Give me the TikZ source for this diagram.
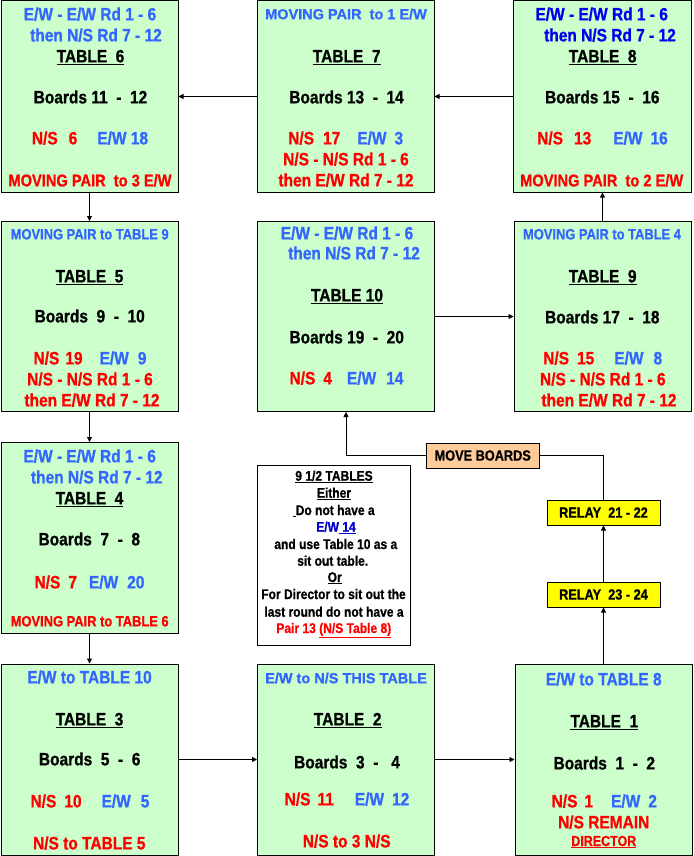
\documentclass[tikz,border=0pt]{standalone}
\usepackage{fontspec}
\setmainfont{Liberation Sans}[FakeStretch=0.86, BoldFeatures={FakeBold=0.8}]
\newfontfamily\wf{Liberation Sans}[BoldFeatures={FakeBold=0.8}]
\usetikzlibrary{arrows.meta}
\definecolor{gfill}{HTML}{CCFFCC}
\definecolor{lb}{HTML}{3366FF}
\definecolor{db}{HTML}{0000EE}
\definecolor{nbl}{HTML}{0000CC}
\definecolor{rd}{HTML}{FF0000}
\definecolor{orng}{HTML}{FFCC99}
\definecolor{yel}{HTML}{FFFF00}
\tikzset{
  tbox/.style={draw=black, line width=1pt, fill=gfill, anchor=north west, inner sep=0pt, minimum width=177pt, minimum height=191pt},
  big/.style={anchor=base, inner sep=0pt, font=\fontsize{18}{21}\selectfont\bfseries},
  mid/.style={anchor=base, inner sep=0pt, font=\fontsize{17}{20}\selectfont\bfseries},
  sm/.style={anchor=base, inner sep=0pt, font=\fontsize{15}{18}\selectfont\bfseries},
  wd/.style={anchor=base, inner sep=0pt, font=\wf\fontsize{14.5}{17}\selectfont\bfseries},
  nt/.style={anchor=base, inner sep=0pt, font=\fontsize{14}{17}\selectfont\bfseries},
  lbl/.style={draw=black, line width=1pt, anchor=north west, inner sep=0pt, font=\fontsize{14.8}{17}\selectfont\bfseries},
  arr/.style={-{Triangle[length=5pt,width=5pt]}, line width=0.8pt},
  ln/.style={line width=0.8pt}
}
\begin{document}
\begin{tikzpicture}[x=1pt,y=-1pt]
\useasboundingbox (0,0) rectangle (693,856);
% boxes
\node[tbox] (t6) at (0.5,0.5) {};
\node[tbox] (t7) at (256.5,0.5) {};
\node[tbox, minimum width=178pt] (t8) at (512.5,0.5) {};
\node[tbox, minimum height=190pt] (t5) at (0.5,221) {};
\node[tbox, minimum height=190pt] (t10) at (257,221) {};
\node[tbox, minimum height=190pt] (t9) at (513.5,221) {};
\node[tbox, minimum height=190.5pt] (t4) at (0.5,442) {};
\node[tbox] (t3) at (0.5,663.5) {};
\node[tbox] (t2) at (257,663.5) {};
\node[tbox] (t1) at (514.5,663.5) {};
\node[draw=black, line width=1pt, fill=white, anchor=north west, inner sep=0pt, minimum width=152.5pt, minimum height=180pt] (note) at (257,465) {};
\node[lbl, fill=orng, minimum width=112.5pt, minimum height=25pt] (mb) at (426,442.5) {MOVE BOARDS};
\node[lbl, fill=yel, minimum width=113pt, minimum height=25pt] (r21) at (546.5,499.5) {RELAY\ \ 21 - 22};
\node[lbl, fill=yel, minimum width=113pt, minimum height=25pt] (r23) at (546.5,581.5) {RELAY\ \ 23 - 24};
% connectors
\draw[arr] (t8.west) -- (t7.east);
\draw[arr] (t7.west) -- (t6.east);
\draw[arr] (t6.south) -- (t5.north);
\draw[arr] (t5.south) -- (t4.north);
\draw[arr] (t4.south) -- (t3.north);
\draw[arr] (t3.east) -- (t2.west);
\draw[arr] (t2.east) -- (t1.west);
\draw[arr] (t1.north) -- (r23.south);
\draw[arr] (r23.north) -- (r21.south);
\draw[ln] (r21.north) |- (mb.east);
\draw[arr] (mb.west) -| (t10.south);
\draw[arr] (t10.east) -- (t9.west);
\draw[arr] (t9.north) -- (t9.north |- t8.south);
% table 6
\node[big, text=lb] (t6a) at (90,20.4) {E/W - E/W Rd 1 - 6};
\node[big, text=lb] (t6b) at (96,41.4) {then N/S Rd 7 - 12};
\node[big] (t6c) at (90.5,62.4) {\underline{TABLE\ \ 6}};
\node[big] (t6d) at (90.5,103.4) {Boards 11\ \ -\ \ 12};
\node[big] (t6e) at (90,144.4) {\textcolor{rd}{N/S\hspace{11pt}6}\hspace{20pt}\textcolor{lb}{E/W 18}};
\node[mid, text=rd] (t6f) at (90,186.4) {MOVING PAIR\ \ to 3 E/W};
% table 7
\node[wd, text=lb] (t7a) at (346,19.2) {MOVING PAIR\ \ to 1 E/W};
\node[big] (t7c) at (346.7,62.4) {\underline{TABLE\ \ 7}};
\node[big] (t7d) at (346.5,103.4) {Boards 13\ \ -\ \ 14};
\node[big] (t7e) at (345.7,144.4) {\textcolor{rd}{N/S\hspace{9pt}17}\hspace{17pt}\textcolor{lb}{E/W\hspace{8pt}3}};
\node[big, text=rd] (t7f) at (346,165.4) {N/S - N/S Rd 1 - 6};
\node[big, text=rd] (t7g) at (346,186.4) {then E/W Rd 7 - 12};
% table 8
\node[big, text=db] (t8a) at (601.7,20.4) {E/W - E/W Rd 1 - 6};
\node[big, text=db] (t8b) at (610,41.4) {then N/S Rd 7 - 12};
\node[big] (t8c) at (602.7,62.4) {\underline{TABLE\ \ 8}};
\node[big] (t8d) at (602.3,103.4) {Boards 15\ \ -\ \ 16};
\node[big] (t8e) at (602.5,144.4) {\textcolor{rd}{N/S\hspace{11pt}13}\hspace{22pt}\textcolor{lb}{E/W\hspace{8pt}16}};
\node[mid, text=rd] (t8f) at (601.7,186.4) {MOVING PAIR\ \ to 2 E/W};
% table 5
\node[sm, text=lb] (t5a) at (89.7,239.4) {MOVING PAIR to TABLE 9};
\node[big] (t5c) at (89.5,282.4) {\underline{TABLE\ \ 5}};
\node[big] (t5d) at (89.7,322.4) {Boards\ \ 9\ \ -\ \ 10};
\node[big] (t5e) at (90,364.4) {\textcolor{rd}{N/S\hspace{6pt}19}\hspace{17pt}\textcolor{lb}{E/W\hspace{9pt}9}};
\node[big, text=rd] (t5f) at (90,385.4) {N/S - N/S Rd 1 - 6};
\node[big, text=rd] (t5g) at (92,406.4) {then E/W Rd 7 - 12};
% table 10
\node[big, text=lb] (t10a) at (347,239.4) {E/W - E/W Rd 1 - 6};
\node[big, text=lb] (t10b) at (354,259.4) {then N/S Rd 7 - 12};
\node[big] (t10c) at (347,301.4) {\underline{TABLE 10}};
\node[big] (t10d) at (346.7,343.4) {Boards 19\ \ -\ \ 20};
\node[big] (t10e) at (346.5,384.4) {\textcolor{rd}{N/S\hspace{8pt}4}\hspace{15pt}\textcolor{lb}{E/W\hspace{10pt}14}};
% table 9
\node[sm, text=lb] (t9a) at (602,239.4) {MOVING PAIR to TABLE 4};
\node[big] (t9c) at (602.7,282.4) {\underline{TABLE\ \ 9}};
\node[big] (t9d) at (602.3,323.4) {Boards 17\ \ -\ \ 18};
\node[big] (t9e) at (602.7,364.4) {\textcolor{rd}{N/S\hspace{8pt}15}\hspace{20pt}\textcolor{lb}{E/W\hspace{10pt}8}};
\node[big, text=rd] (t9f) at (602.8,385.4) {N/S - N/S Rd 1 - 6};
\node[big, text=rd] (t9g) at (609,406.4) {then E/W Rd 7 - 12};
% table 4
\node[big, text=lb] (t4a) at (89.7,462.4) {E/W - E/W Rd 1 - 6};
\node[big, text=lb] (t4b) at (96.8,483.4) {then N/S Rd 7 - 12};
\node[big] (t4c) at (89.5,504.4) {\underline{TABLE\ \ 4}};
\node[big] (t4d) at (89.3,545.4) {Boards\ \ 7\ \ -\ \ 8};
\node[big] (t4e) at (89.5,588.4) {\textcolor{rd}{N/S\hspace{8pt}7}\hspace{12pt}\textcolor{lb}{E/W\hspace{9pt}20}};
\node[sm, text=rd] (t4f) at (89.7,626.4) {MOVING PAIR to TABLE 6};
% table 3
\node[big, text=lb] (t3a) at (89.5,683.4) {E/W to TABLE 10};
\node[big] (t3c) at (89.5,725.4) {\underline{TABLE\ \ 3}};
\node[big] (t3d) at (89.7,765.4) {Boards\ \ 5\ \ -\ \ 6};
\node[big] (t3e) at (90,807.4) {\textcolor{rd}{N/S\hspace{8pt}10}\hspace{20pt}\textcolor{lb}{E/W\hspace{10pt}5}};
\node[big, text=rd] (t3f) at (89.3,849.4) {N/S to TABLE 5};
% table 2
\node[wd, text=lb] (t2a) at (346,683.2) {E/W to N/S THIS TABLE};
\node[big] (t2c) at (347.7,725.4) {\underline{TABLE\ \ 2}};
\node[big] (t2d) at (347,768.4) {Boards\ \ 3\ \ -\ \ \ 4};
\node[big] (t2e) at (347,805.4) {\textcolor{rd}{N/S\hspace{7pt}11}\hspace{21pt}\textcolor{lb}{E/W\hspace{8pt}12}};
\node[big, text=rd] (t2f) at (346.7,847.4) {N/S to 3 N/S};
% table 1
\node[big, text=lb] (t1a) at (603.7,685.4) {E/W to TABLE 8};
\node[big] (t1c) at (604.3,727.4) {\underline{TABLE\ \ 1}};
\node[big] (t1d) at (604.3,769.4) {Boards\ \ 1\ \ -\ \ 2};
\node[big] (t1e) at (604.3,807.4) {\textcolor{rd}{N/S\hspace{7pt}1}\hspace{18pt}\textcolor{lb}{E/W\hspace{8pt}2}};
\node[big, text=rd] (t1f) at (603.7,828.4) {N/S REMAIN};
\node[sm, text=rd, font=\fontsize{14.5}{17}\selectfont\bfseries] (t1g) at (603.8,846) {\underline{DIRECTOR}};
% note
\node[nt] (n1) at (334,480.7) {\underline{9 1/2 TABLES}};
\node[nt] (n2) at (334,497.7) {\underline{Either}};
\node[nt] (n3) at (333.7,515) {\underline{\hspace{3pt}}Do not have a};
\node[nt] (n4) at (336,531.7) {\textcolor{nbl}{E/W\underline{\ 14}}};
\node[nt] (n5) at (335.8,549) {and use Table 10 as a};
\node[nt] (n6) at (332.7,565.7) {sit out table.};
\node[nt] (n7) at (334.7,582) {\underline{Or}};
\node[nt] (n8) at (333.5,599) {For Director to sit out the};
\node[nt] (n9) at (334,616.7) {last round do not have a};
\node[nt] (n10) at (333.8,633) {\textcolor{rd}{Pair 13 \underline{(N/S Table 8)}}};
\end{tikzpicture}
\end{document}
